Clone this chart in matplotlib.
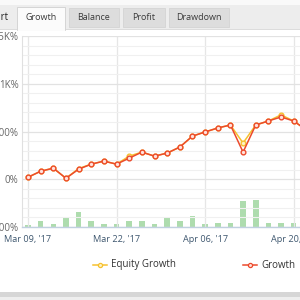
import matplotlib
matplotlib.use("Agg")
import matplotlib.pyplot as plt
from matplotlib.patches import Rectangle
from matplotlib.lines import Line2D

plt.rcParams["font.family"] = ["Open Sans", "DejaVu Sans"]

# ---- data ----
growth = [21, 84, 116, 10, 105, 158, 190, 158, 221, 284, 242, 274, 337,
          452, 495, 537, 568, 284, 568, 610, 652, 610, 516]
equity = [21, 84, 116, 10, 112, 158, 190, 158, 242, 284, 242, 274, 337,
          452, 495, 537, 568, 379, 568, 610, 674, 610, 516]
bars = [2.5, 6, 3, 9, 15, 6, 3, 3, 6, 6, 3, 10, 6, 11, 3, 4, 4, 26, 27, 4, 4, 4]
tick_idx = [0, 7, 14, 21]
tick_labels = ["Mar 09, '17", "Mar 22, '17", "Apr 06, '17", "Apr 20, '17"]
y_major = [-500, 0, 500, 1000, 1500]
y_labels = ["-500%", "0%", "500%", "1K%", "1.5K%"]
tabs = ["Growth", "Balance", "Profit", "Drawdown"]

W = H = 300
RED = "#ec4a2c"
YEL = "#f6c12f"
GREEN = "#aedcae"


def fx(px):
    return px / W


def fy(py):
    return 1 - py / H


fig = plt.figure(figsize=(3, 3), dpi=100, facecolor="#f4f4f4")


def rect(x0, y0, x1, y1, color, ec="none", lw=0):
    fig.patches.append(Rectangle((fx(x0), fy(y1)), fx(x1) - fx(x0), fy(y0) - fy(y1),
                                 transform=fig.transFigure, facecolor=color,
                                 edgecolor=ec, linewidth=lw, zorder=0))


# page chrome: tab strip, panel, bottom shadow
rect(0, 0, 300, 5, "#f9f9f9")
rect(0, 5, 300, 29, "#ededed")
rect(0, 29, 300, 292, "white")
rect(0, 29, 300, 30, "#dcdcdc")
rect(0, 292, 300, 297, "#d6d6d6")
rect(0, 297, 300, 300, "#eeeeee")

tab_x = [(17, 65), (69, 119), (123, 165), (169, 229)]
for i, (name, (a, b)) in enumerate(zip(tabs, tab_x)):
    if i == 0:
        rect(a, 7, b, 30, "#fbfbfb", ec="#d0d0d0", lw=0.6)
        rect(a + 0.5, 28.5, b - 0.5, 31, "#fbfbfb")
    else:
        rect(a, 8, b, 27, "#dddddd", ec="#d0d0d0", lw=0.5)
    fig.text(fx((a + b) / 2), fy(17.5), name, ha="center", va="center",
             fontsize=6.5, color="#3a3a3a")
fig.text(fx(8.5), fy(17.5), "Chart", ha="right", va="center",
         fontsize=7.0, color="#222222")

# ---- chart ----
pos = [fx(22), fy(227), fx(300) - fx(22), fy(36) - fy(227)]
xlim = (-0.475, 21.5)

axb = fig.add_axes(pos, zorder=1)
axb.bar(range(len(bars)), bars, width=0.44, color=GREEN, zorder=1)
axb.set_xlim(*xlim)
axb.set_ylim(0, 191)
axb.axis("off")

ax = fig.add_axes(pos, zorder=2)
ax.patch.set_visible(False)
x = range(len(growth))
ax.plot(x, equity, color=YEL, lw=1.1, marker="o", ms=3.4, mfc="#fff3c4",
        mec=YEL, mew=1.0, zorder=3)
ax.plot(x, growth, color=RED, lw=1.1, marker="o", ms=3.4, mfc="#ffe3dc",
        mec=RED, mew=1.0, zorder=4)
ax.set_xlim(*xlim)
ax.set_ylim(-500, 1500)

ax.set_yticks(y_major, y_labels)
ax.set_yticks(range(-400, 1500, 100), minor=True)
ax.set_xticks(tick_idx, tick_labels)
ax.grid(True, which="major", axis="y", color="#e2e2e2", lw=0.9)
ax.grid(True, which="minor", axis="y", color="#f0f0f0", lw=0.8)
ax.grid(True, which="major", axis="x", color="#e6e6e6", lw=0.9)
ax.set_axisbelow(True)
ax.tick_params(axis="y", which="both", length=0, pad=2.5, labelsize=7.0,
               labelcolor="#666666")
ax.tick_params(axis="x", length=0, pad=6, labelsize=6.6, labelcolor="#3e576f")
for side in ("top", "right"):
    ax.spines[side].set_visible(False)
ax.spines["left"].set_color("#e0e0e0")
ax.spines["left"].set_linewidth(0.8)
ax.spines["bottom"].set_color("#c0d0e0")
ax.spines["bottom"].set_linewidth(1.0)

# ---- legend ----
for (x0, label, col, fc) in [(93, "Equity Growth", YEL, "#fff3c4"),
                             (243, "Growth", RED, "#ffe3dc")]:
    fig.lines.append(Line2D([fx(x0), fx(x0 + 14)], [fy(265), fy(265)],
                            transform=fig.transFigure, color=col, lw=1.1))
    fig.lines.append(Line2D([fx(x0 + 7)], [fy(265)], transform=fig.transFigure,
                            marker="o", ms=3.0, mfc=fc, mec=col, mew=0.9,
                            color=col))
    fig.text(fx(x0 + 18), fy(265), label, ha="left", va="center",
             fontsize=7.0, color="#333333")

fig.savefig("out.png", dpi=100, facecolor=fig.get_facecolor())
